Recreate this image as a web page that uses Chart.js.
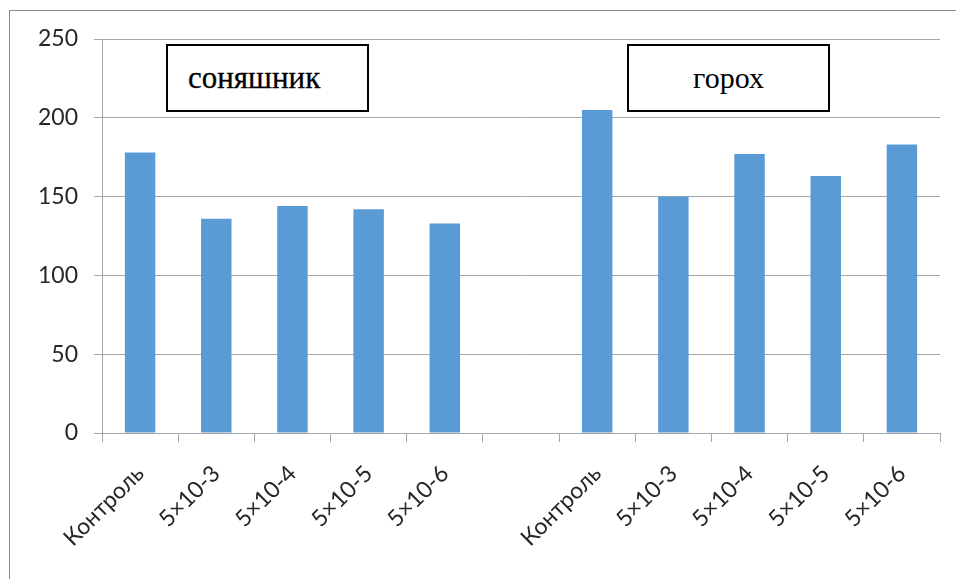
<!DOCTYPE html>
<html>
<head>
<meta charset="utf-8">
<title>Соняшник і горох</title>
<script src="https://cdn.jsdelivr.net/npm/chart.js@4/dist/chart.umd.min.js"></script>
<style>
    html, body { margin: 0; padding: 0; background: #fff; }
    #wrap { position: relative; width: 956px; height: 579px; overflow: hidden; }
    #frame {
        position: absolute; left: 9px; top: 10px; width: 1000px; height: 700px;
        border-left: 1px solid #8a8a8a; border-top: 1px solid #8a8a8a;
    }
    .label-box {
        position: absolute; top: 44px; width: 199px; height: 64px;
        border: 2px solid #000; background: #fff;
        font-family: "Liberation Serif", "Times New Roman", serif;
        font-size: 31px; line-height: 64px; color: #000;
    }
    #box-sun { left: 166px; }
    #box-sun span { margin-left: 20px; -webkit-text-stroke: 0.3px #000; }
    #box-pea { left: 627px; text-align: center; font-size: 30px; }
    canvas { position: absolute; left: 0; top: 0; }
</style>
</head>
<body>
<div id="wrap">
    <div id="frame"></div>
    <canvas id="grafico" width="956" height="579"></canvas>
    <div class="label-box" id="box-sun"><span>соняшник</span></div>
    <div class="label-box" id="box-pea">горох</div>
</div>
<script>
// категорії: перша група - соняшник, порожня колонка, друга група - горох
const categorias = ['Контроль', '5×10-3', '5×10-4', '5×10-5', '5×10-6', '',
    'Контроль', '5×10-3', '5×10-4', '5×10-5', '5×10-6'];

const valoresGirassol = [178, 136, 144, 142, 133];
const valoresErvilha = [205, 150, 177, 163, 183];

// a coluna vazia entre os grupos fica sem valor
const serie = [...valoresGirassol, null, ...valoresErvilha];

const ticksY = [0, 50, 100, 150, 200, 250];

const corBarra = '#5b9bd5';
const corGrade = '#a6a6a6';
const fonteEixo = { family: 'Lato, "Open Sans", sans-serif', size: 23 };

const ctx = document.getElementById('grafico').getContext('2d');

new Chart(ctx, {
    type: 'bar',
    data: {
        labels: categorias,
        datasets: [{
            data: serie,
            backgroundColor: corBarra,
            borderWidth: 0,
            barPercentage: 0.4,
            categoryPercentage: 1.0
        }]
    },
    options: {
        responsive: false,
        animation: false,
        layout: { padding: { left: 0, top: 39, right: 16, bottom: 0 } },
        plugins: {
            legend: { display: false },
            tooltip: { enabled: false }
        },
        scales: {
            x: {
                grid: {
                    offset: true,
                    drawOnChartArea: false,
                    drawTicks: true,
                    tickLength: 9,
                    color: corGrade
                },
                border: { color: corGrade, width: 1 },
                ticks: {
                    font: fonteEixo,
                    color: '#262626',
                    minRotation: 45,
                    maxRotation: 45,
                    padding: 18,
                    autoSkip: false
                },
                afterFit: (escala) => { escala.height = 146; }
            },
            y: {
                min: 0,
                max: 250,
                afterBuildTicks: (escala) => {
                    escala.ticks = ticksY.map(v => ({ value: v }));
                },
                grid: {
                    color: corGrade,
                    tickLength: 8
                },
                border: { color: corGrade, width: 1 },
                ticks: {
                    font: fonteEixo,
                    color: '#262626',
                    padding: 16
                },
                afterFit: (escala) => { escala.width = 102; }
            }
        }
    }
});
</script>
</body>
</html>
